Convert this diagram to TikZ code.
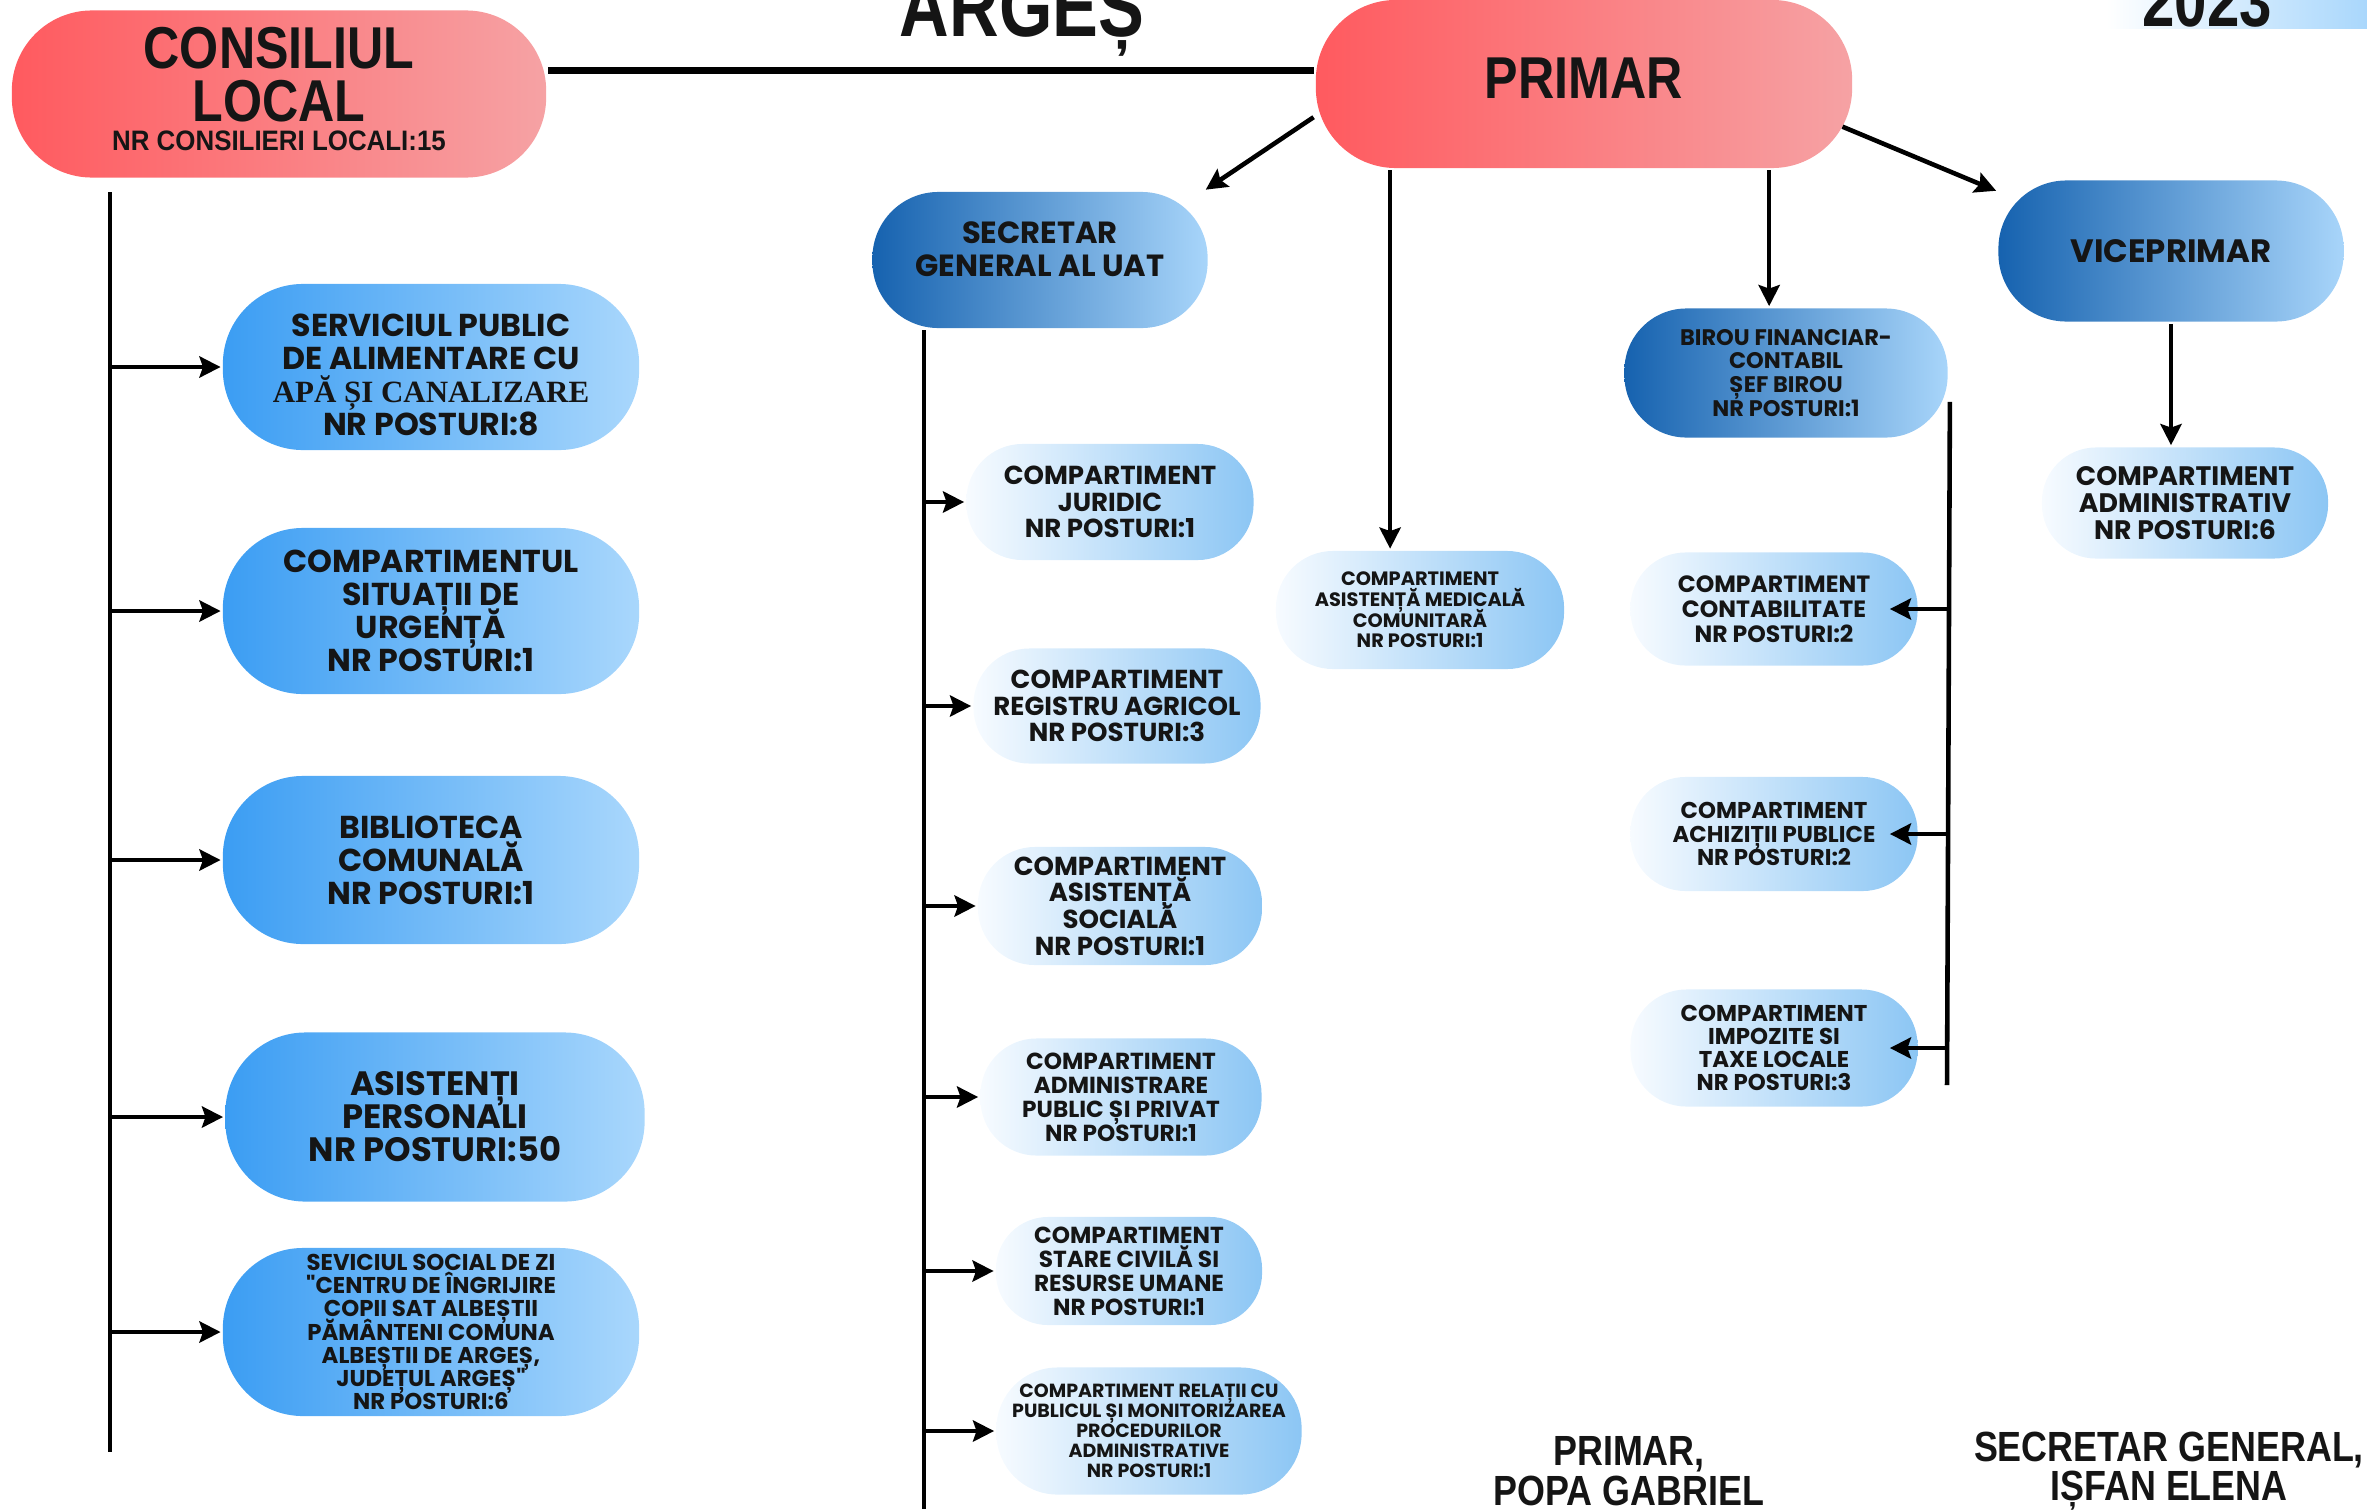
\documentclass[tikz,border=0pt]{standalone}
\usepackage{fontspec}
\usepackage{xcolor}
\usetikzlibrary{arrows,arrows.meta}

\newfontfamily\boxfont{Poppins}
\newfontfamily\headfont{Liberation Sans}[FakeStretch=0.8]
\newfontfamily\sigfont{Liberation Sans}[FakeStretch=0.85]
\newfontfamily\smallhead{Liberation Sans}[FakeStretch=0.92]
\newfontfamily\serifbold{Liberation Serif}
\newcommand{\bx}[2]{\boxfont\bfseries\fontsize{#1}{#2}\selectfont\lineskiplimit=-\maxdimen\relax}
\newcommand{\hd}[2]{\headfont\bfseries\fontsize{#1}{#2}\selectfont\lineskiplimit=-\maxdimen\relax}
\newcommand{\rd}[2]{\sigfont\bfseries\fontsize{#1}{#2}\selectfont\lineskiplimit=-\maxdimen\relax}

\definecolor{redL}{HTML}{FF5A5F}
\definecolor{redR}{HTML}{F6A2A4}
\definecolor{blueL}{HTML}{3B9DF3}
\definecolor{blueR}{HTML}{A9D7FC}
\definecolor{darkL}{HTML}{1662AF}
\definecolor{darkR}{HTML}{A8D5FA}
\definecolor{lightL}{HTML}{F7FBFF}
\definecolor{lightR}{HTML}{8CC6F4}
\definecolor{ink}{HTML}{151515}

\begin{document}
\begin{tikzpicture}[x=0.01cm,y=-0.01cm,>={Stealth[length=6pt,width=6pt,inset=1pt]},line width=1.3pt]
    \tikzstyle{redbox}=[rectangle,left color=redL,right color=redR,text=ink,align=center,inner sep=0pt,font=\rd{16.8}{15}]
    \tikzstyle{bluebox}=[rectangle,left color=blueL,right color=blueR,text=ink,align=center,inner sep=0pt,font=\bx{9}{9.4}]
    \tikzstyle{darkbox}=[rectangle,left color=darkL,right color=darkR,text=ink,align=center,inner sep=0pt]
    \tikzstyle{lightbox}=[rectangle,left color=lightL,right color=lightR,text=ink,align=center,inner sep=0pt]

    \useasboundingbox (0,0) rectangle (2367,1509);

    % titlul de sus (taiat)
    \shade[left color=white,right color=blueR] (2106,0) rectangle (2367,28);
    \node[anchor=base,text=ink,font=\hd{24.4}{24}] (judet) at (1022,36) {ARGEȘ};
    \node[anchor=base,text=ink,font=\hd{20.7}{20}] (an) at (2207,27) {2023};

    \node[redbox,minimum width=5.34cm,minimum height=1.67cm,rounded corners=0.8cm,text depth=0.1cm] (cl) at (279,94)
        {CONSILIUL\\LOCAL\\[-6.5pt]{\smallhead\bfseries\fontsize{8}{9}\selectfont NR CONSILIERI LOCALI:15}};
    \node[redbox,minimum width=5.36cm,minimum height=1.68cm,rounded corners=0.8cm,text depth=0.12cm] (primar) at (1584,84) {PRIMAR};

    \node[darkbox,font=\bx{8.7}{9.2},minimum width=3.35cm,minimum height=1.36cm,rounded corners=0.66cm,text depth=0.22cm] (secretar) at (1040,260) {SECRETAR\\GENERAL AL UAT};
    \node[darkbox,font=\bx{9.2}{9.6},minimum width=3.45cm,minimum height=1.41cm,rounded corners=0.68cm] (vice) at (2171,251) {VICEPRIMAR};
    \node[darkbox,font=\bx{6.4}{6.8},minimum width=3.23cm,minimum height=1.29cm,rounded corners=0.62cm] (birou) at (1786,373) {BIROU FINANCIAR-\\CONTABIL\\ȘEF BIROU\\NR POSTURI:1};

    % consiliul local
    \node[bluebox,minimum width=4.16cm,minimum height=1.66cm,rounded corners=0.8cm] (s1) at (431,367)
        {\rule{0pt}{10.7pt}SERVICIUL PUBLIC\\DE ALIMENTARE CU\\{\serifbold\bfseries\fontsize{8.8}{9.4}\selectfont APĂ ȘI CANALIZARE}\\NR POSTURI:8};
    \node[bluebox,minimum width=4.16cm,minimum height=1.66cm,rounded corners=0.8cm] (s2) at (431,611) {COMPARTIMENTUL\\SITUAȚII DE\\URGENȚĂ\\NR POSTURI:1};
    \node[bluebox,minimum width=4.16cm,minimum height=1.68cm,rounded corners=0.8cm] (s3) at (431,860) {BIBLIOTECA\\COMUNALĂ\\NR POSTURI:1};
    \node[bluebox,font=\bx{9.6}{9.4},minimum width=4.19cm,minimum height=1.69cm,rounded corners=0.8cm] (s4) at (435,1117) {ASISTENȚI\\PERSONALI\\NR POSTURI:50};
    \node[bluebox,font=\bx{6.5}{6.6},minimum width=4.16cm,minimum height=1.68cm,rounded corners=0.8cm] (s5) at (431,1332)
        {SEVICIUL SOCIAL DE ZI\\"CENTRU DE ÎNGRIJIRE\\COPII SAT ALBEȘTII\\PĂMÂNTENI COMUNA\\ALBEȘTII DE ARGEȘ,\\JUDEȚUL ARGEȘ"\\NR POSTURI:6};

    % secretar general
    \node[lightbox,font=\bx{7.4}{7.6},minimum width=2.87cm,minimum height=1.16cm,rounded corners=0.56cm] (c1) at (1110,502) {COMPARTIMENT\\JURIDIC\\NR POSTURI:1};
    \node[lightbox,font=\bx{7.4}{7.6},minimum width=2.87cm,minimum height=1.15cm,rounded corners=0.56cm] (c2) at (1117,706) {COMPARTIMENT\\REGISTRU AGRICOL\\NR POSTURI:3};
    \node[lightbox,font=\bx{7.4}{7.6},minimum width=2.84cm,minimum height=1.18cm,rounded corners=0.57cm] (c3) at (1120,906) {COMPARTIMENT\\ASISTENȚĂ\\SOCIALĂ\\NR POSTURI:1};
    \node[lightbox,font=\bx{6.6}{6.8},minimum width=2.81cm,minimum height=1.17cm,rounded corners=0.56cm] (c4) at (1121,1097) {COMPARTIMENT\\ADMINISTRARE\\PUBLIC ȘI PRIVAT\\NR POSTURI:1};
    \node[lightbox,font=\bx{6.6}{6.8},minimum width=2.66cm,minimum height=1.08cm,rounded corners=0.52cm] (c5) at (1129,1271) {COMPARTIMENT\\STARE CIVILĂ SI\\RESURSE UMANE\\NR POSTURI:1};
    \node[lightbox,font=\bx{5.4}{5.7},minimum width=3.05cm,minimum height=1.27cm,rounded corners=0.61cm] (c6) at (1149,1431)
        {COMPARTIMENT RELAȚII CU\\PUBLICUL ȘI MONITORIZAREA\\PROCEDURILOR\\ADMINISTRATIVE\\NR POSTURI:1};

    % primar
    \node[lightbox,font=\bx{5.5}{5.9},minimum width=2.88cm,minimum height=1.18cm,rounded corners=0.57cm] (med) at (1420,610) {COMPARTIMENT\\ASISTENȚĂ MEDICALĂ\\COMUNITARĂ\\NR POSTURI:1};

    % birou financiar
    \node[lightbox,font=\bx{6.7}{7.1},minimum width=2.87cm,minimum height=1.13cm,rounded corners=0.55cm] (f1) at (1774,609) {COMPARTIMENT\\CONTABILITATE\\NR POSTURI:2};
    \node[lightbox,font=\bx{6.5}{6.7},minimum width=2.87cm,minimum height=1.14cm,rounded corners=0.55cm] (f2) at (1774,834) {COMPARTIMENT\\ACHIZIȚII PUBLICE\\NR POSTURI:2};
    \node[lightbox,font=\bx{6.5}{6.6},minimum width=2.87cm,minimum height=1.17cm,rounded corners=0.56cm] (f3) at (1774,1048) {COMPARTIMENT\\IMPOZITE SI\\TAXE LOCALE\\NR POSTURI:3};

    % viceprimar
    \node[lightbox,font=\bx{7.6}{7.7},minimum width=2.86cm,minimum height=1.11cm,rounded corners=0.54cm] (admv) at (2185,503) {COMPARTIMENT\\ADMINISTRATIV\\NR POSTURI:6};

    % semnaturi
    \node[text=ink,align=center,font=\rd{12}{11.2}] (semnp) at (1629,1471) {PRIMAR,\\POPA GABRIEL};
    \node[text=ink,align=center,font=\rd{12}{11.2}] (semns) at (2169,1471) {SECRETAR GENERAL,\\IȘFAN ELENA};

    \coordinate (cltop) at (110,192);
    \coordinate (clbot) at (110,1452);
    \coordinate (sgbot) at (924,1509);
    \coordinate (bfbot) at (1947,1085);

    \draw[line width=1.8pt] (cl.5) -- (cl.5 -| primar.west);
    \draw[->] (primar.187) -- (secretar.23);
    \draw[->] (primar.204) -- (primar.204 |- med.north);
    \draw[->] (primar.335) -- (primar.335 |- birou.north);
    \draw[->,shorten <=-0.13cm] (primar.-10) -- (vice.161);
    \draw[->] (vice.south) -- (vice.south |- admv.north);

    \draw (cltop) -- (clbot);
    \draw[->] (cltop |- s1.west) -- (s1.west);
    \draw[->] (cltop |- s2.west) -- (s2.west);
    \draw[->] (cltop |- s3.west) -- (s3.west);
    \draw[->] (cltop |- s4.west) -- (s4.west);
    \draw[->] (cltop |- s5.west) -- (s5.west);

    \draw (sgbot |- secretar.south) -- (sgbot);
    \draw[->] (sgbot |- c1.west) -- (c1.west);
    \draw[->] (sgbot |- c2.west) -- (c2.west);
    \draw[->] (sgbot |- c3.west) -- (c3.west);
    \draw[->] (sgbot |- c4.west) -- (c4.west);
    \draw[->] (sgbot |- c5.west) -- (c5.west);
    \draw[->] (sgbot |- c6.west) -- (c6.west);

    \draw (birou.-10) -- (bfbot);
    \draw[->,shorten >=-0.3cm] (bfbot |- f1.east) -- (f1.east);
    \draw[->,shorten >=-0.3cm] (bfbot |- f2.east) -- (f2.east);
    \draw[->,shorten >=-0.3cm] (bfbot |- f3.east) -- (f3.east);
\end{tikzpicture}
\end{document}
